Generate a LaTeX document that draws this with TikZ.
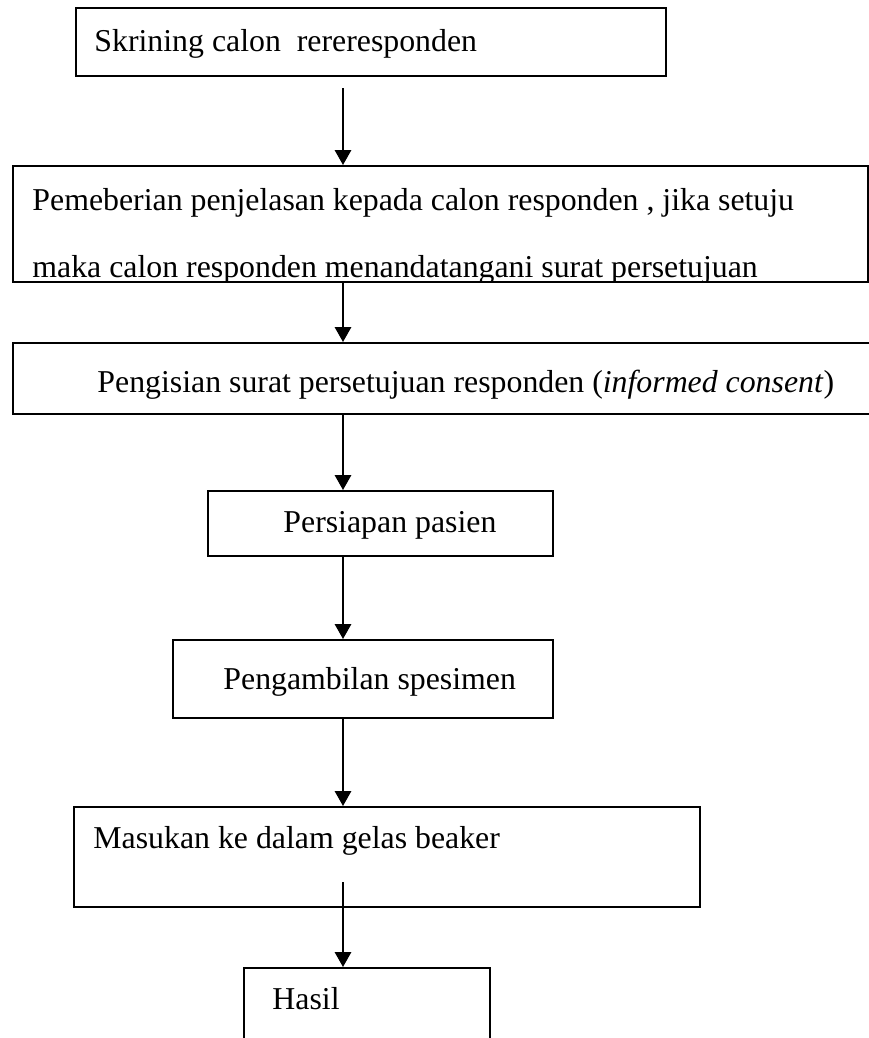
\documentclass[tikz,border=0pt]{standalone}
\usepackage{fontspec}
\setmainfont{Liberation Serif}
\usetikzlibrary{positioning,arrows.meta}

\begin{document}
\begin{tikzpicture}[
    x=0.44pt, y=-0.44pt,
    box/.style={draw, line width=0.7pt, rectangle, anchor=north west, inner sep=0pt},
    txt/.style={anchor=base west, inner sep=0pt, font=\fontsize{14}{16}\selectfont},
    flow/.style={line width=0.9pt, -{Triangle[length=6.6pt,width=7.2pt]}}
]
    \clip (0,0) rectangle (869,1038);

    % boxes
    \node[box, minimum width=590*0.44pt, minimum height=68*0.44pt] (b1) at (75,7) {};
    \node[box, minimum width=855*0.44pt, minimum height=116*0.44pt] (b2) at (12,165) {};
    \node[box, minimum width=873*0.44pt, minimum height=71*0.44pt] (b3) at (12,342) {};
    \node[box, minimum width=345*0.44pt, minimum height=65*0.44pt] (b4) at (207,490) {};
    \node[box, minimum width=380*0.44pt, minimum height=78*0.44pt] (b5) at (172,639) {};
    \node[box, line width=1pt, minimum width=626*0.44pt, minimum height=100*0.44pt] (b6) at (73,806) {};
    \node[box, minimum width=246*0.44pt, minimum height=83*0.44pt] (b7) at (243,967) {};

    % texts
    \node[txt] (t1) at (94,51) {Skrining calon\ \ rereresponden};
    \node[txt] (t2a) at (32,210) {Pemeberian penjelasan kepada calon responden , jika setuju};
    \begin{scope}
        \clip (b2.south west) rectangle (b2.north east);
        \node[txt] (t2b) at (32,277) {maka calon responden menandatangani surat persetujuan};
    \end{scope}
    \node[txt] (t3) at (97,392) {Pengisian surat persetujuan responden (\textit{informed consent})};
    \node[txt] (t4) at (283,532) {Persiapan pasien};
    \node[txt] (t5) at (223,689) {Pengambilan spesimen};
    \node[txt] (t6) at (93,848) {Masukan ke dalam gelas beaker};
    \node[txt] (t7) at (272,1009) {Hasil};

    % arrows
    \coordinate (a1) at (343,88);
    \coordinate (a6) at (343,882);
    \draw[flow] (a1) -- (a1 |- b2.north);
    \draw[flow] (b2.south -| a1) -- (b3.north -| a1);
    \draw[flow] (b3.south -| a1) -- (b4.north -| a1);
    \draw[flow] (b4.south -| a1) -- (b5.north -| a1);
    \draw[flow] (b5.south -| a1) -- (b6.north -| a1);
    \draw[flow] (a6) -- (a6 |- b7.north);
\end{tikzpicture}
\end{document}
